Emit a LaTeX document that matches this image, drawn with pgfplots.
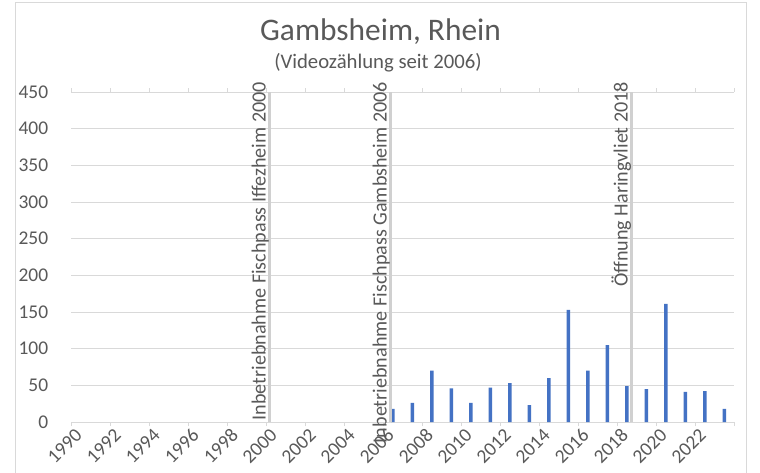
\documentclass[border=0pt]{standalone}
\usepackage{pgfplots}
\pgfplotsset{compat=1.18}
\usepackage{fontspec}
\setmainfont{Carlito}
\definecolor{textgray}{HTML}{595959}
\definecolor{gridgray}{HTML}{D9D9D9}
\definecolor{linegray}{HTML}{D0D0D0}
\definecolor{barblue}{HTML}{4472C4}
\begin{document}
\begin{tikzpicture}
\useasboundingbox (0,0) rectangle (760bp,473bp);
\fill[white] (0,0) rectangle (760bp,473bp);
\draw[gridgray, line width=0.75bp] (15.5bp,-2bp) -- (15.5bp,470.3bp) -- (746.7bp,470.3bp) -- (746.7bp,-2bp);
\node[anchor=base, font=\fontsize{31.5}{36}\selectfont, text=textgray, inner sep=0pt] at (380.5bp,432.3bp) {Gambsheim, Rhein};
\node[anchor=base, font=\fontsize{20.8}{25}\selectfont, text=textgray, inner sep=0pt] at (378bp,404.7bp) {(Videozählung seit 2006)};
\begin{axis}[
  at={(71bp,51bp)}, anchor=south west,
  scale only axis, width=663bp, height=330bp,
  xmin=1989.5, xmax=2023.5, ymin=0, ymax=450,
  clip=false,
  axis line style={draw=none},
  ymajorgrids, grid style={gridgray, line width=0.75bp},
  ytick={0,50,...,450},
  ytick style={draw=none},
  yticklabel style={anchor=east, inner sep=0pt, xshift=-18.7bp, font=\fontsize{19.5}{23}\selectfont, text=textgray},
  xtick={1989.5,1991.5,1993.5,1995.5,1997.5,1999.5,2001.5,2003.5,2005.5,2007.5,2009.5,2011.5,2013.5,2015.5,2017.5,2019.5,2021.5,2023.5},
  xticklabels={1990,1992,1994,1996,1998,2000,2002,2004,2006,2008,2010,2012,2014,2016,2018,2020,2022,{}},
  tick align=outside, major tick length=4bp,
  xtick style={draw=gridgray, line width=0.75bp},
  xticklabel style={xshift=7.75bp, yshift=-6bp, rotate=45, anchor=east, inner sep=0pt, font=\fontsize{19.5}{23}\selectfont, text=textgray},
  /pgf/number format/assume math mode=true,
  /pgf/number format/1000 sep={},
]
\addplot[ybar, bar width=3.5bp, fill=barblue, draw=none] coordinates {
  (2006,18) (2007,26) (2008,70) (2009,46) (2010,26) (2011,47) (2012,53)
  (2013,23) (2014,60) (2015,153) (2016,70) (2017,105) (2018,49) (2019,45)
  (2020,161) (2021,41) (2022,42) (2023,18)
};
\addplot[linegray, line width=3.5bp] coordinates {(1999.68,0) (1999.68,450)};
\addplot[linegray, line width=3.5bp] coordinates {(2005.89,0) (2005.89,450)};
\addplot[linegray, line width=3.5bp] coordinates {(2018.25,0) (2018.25,450)};
\node[rotate=90, anchor=base east, inner sep=0pt, font=\fontsize{20.2}{24}\selectfont, text=textgray] at ([xshift=-4bp]axis cs:1999.68,464) {Inbetriebnahme Fischpass Iffezheim 2000};
\node[rotate=90, anchor=base east, inner sep=0pt, font=\fontsize{20.2}{24}\selectfont, text=textgray] at ([xshift=-4bp]axis cs:2005.89,464) {Inbetriebnahme Fischpass Gambsheim 2006};
\node[rotate=90, anchor=base east, inner sep=0pt, font=\fontsize{20.2}{24}\selectfont, text=textgray] at ([xshift=-4bp]axis cs:2018.25,464) {Öffnung Haringvliet 2018};
\end{axis}
\end{tikzpicture}
\end{document}
